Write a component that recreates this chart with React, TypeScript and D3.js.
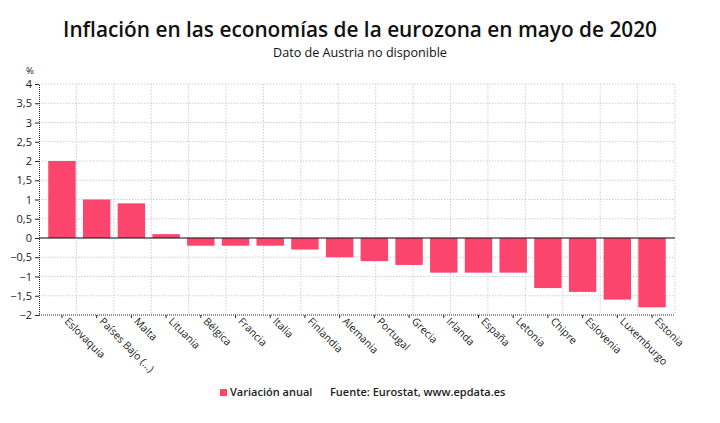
import React, { useEffect, useRef } from 'react'
import * as d3 from 'd3'

const countries = [
  'Eslovaquia', 'Países Bajo (...)', 'Malta', 'Lituania', 'Bélgica', 'Francia',
  'Italia', 'Finlandia', 'Alemania', 'Portugal', 'Grecia', 'Irlanda', 'España',
  'Letonia', 'Chipre', 'Eslovenia', 'Luxemburgo', 'Estonia',
]
const variacion = [2.0, 1.0, 0.9, 0.1, -0.2, -0.2, -0.2, -0.3, -0.5, -0.6, -0.7, -0.9, -0.9, -0.9, -1.3, -1.4, -1.6, -1.8]
const yTicks = [-2, -1.5, -1, -0.5, 0, 0.5, 1, 1.5, 2, 2.5, 3, 3.5, 4]

const W = 720
const H = 423
const FONT = "'Open Sans', 'Noto Sans', sans-serif"
const BAR = '#fb456d'

export default function App() {
  const ref = useRef<SVGSVGElement | null>(null)

  useEffect(() => {
    document.body.style.margin = '0'
    if (!ref.current) return
    const svg = d3.select(ref.current)
    svg.selectAll('*').remove()

    const left = 39, right = 675, top = 84, bottom = 315
    // categories sit slightly inside the plot frame
    const x = d3.scaleBand<string>().domain(countries).range([44.6, 669.4]).paddingInner(0.21).paddingOuter(0.105)
    const y = d3.scaleLinear().domain([-2, 4]).range([bottom, top])

    // titles
    svg.append('text').attr('x', 360).attr('y', 37).attr('text-anchor', 'middle')
      .style('font-family', FONT).style('font-size', '20.8px').style('font-weight', 600)
      .attr('fill', '#111').text('Inflación en las economías de la eurozona en mayo de 2020')
    svg.append('text').attr('x', 360).attr('y', 57).attr('text-anchor', 'middle')
      .style('font-family', FONT).style('font-size', '12.6px').attr('fill', '#111')
      .text('Dato de Austria no disponible')
    svg.append('text').attr('x', 26).attr('y', 74)
      .style('font-family', FONT).style('font-size', '9.5px').attr('fill', '#222').text('%')

    // grid
    const grid = svg.append('g').attr('stroke', '#cfcfcf').attr('stroke-dasharray', '1.5,1.5').attr('stroke-width', 1)
    yTicks.filter((t) => t !== -2).forEach((t) => {
      grid.append('line').attr('x1', left).attr('x2', right).attr('y1', y(t)).attr('y2', y(t))
    })
    d3.range(1, 18).forEach((i) => {
      const gx = left + ((right - left) * i) / 17
      grid.append('line').attr('x1', gx).attr('x2', gx).attr('y1', top).attr('y2', bottom)
    })

    // bars
    svg.append('g').selectAll('rect').data(variacion).join('rect')
      .attr('x', (_, i) => x(countries[i])!)
      .attr('width', x.bandwidth())
      .attr('y', (d) => y(Math.max(0, d)))
      .attr('height', (d) => Math.abs(y(d) - y(0)))
      .attr('fill', BAR)

    // zero line
    svg.append('line').attr('x1', left).attr('x2', right).attr('y1', y(0)).attr('y2', y(0))
      .attr('stroke', '#111').attr('stroke-width', 1.2)

    // y axis
    const ya = svg.append('g').attr('transform', `translate(${left},0)`)
      .call(d3.axisLeft(y).tickValues(yTicks).tickSize(4).tickFormat((d) => d3.format('.1~f')(+d).replace('.', ',')))
    ya.select('.domain').attr('stroke', '#222').attr('stroke-dasharray', '1,1')
    ya.selectAll('line').attr('stroke', '#222')
    ya.selectAll('text').style('font-family', FONT).style('font-size', '11px').attr('fill', '#222')

    // x axis
    const xa = svg.append('g').attr('transform', `translate(0,${bottom})`)
    xa.append('line').attr('x1', left).attr('x2', right).attr('stroke', '#222').attr('stroke-dasharray', '1,1')
    xa.call(d3.axisBottom(x).tickSize(3).tickSizeOuter(0))
    xa.select('.domain').remove()
    xa.selectAll('.tick line').attr('stroke', '#222')
    xa.selectAll('text')
      .style('font-family', FONT).style('font-size', '10.5px').attr('fill', '#222')
      .attr('text-anchor', 'start').attr('dy', null).attr('y', 0)
      .attr('transform', 'translate(2,7) rotate(45)')

    // legend
    svg.append('rect').attr('x', 220).attr('y', 389).attr('width', 7).attr('height', 7).attr('fill', BAR)
    svg.append('text').attr('x', 230).attr('y', 396)
      .style('font-family', FONT).style('font-size', '11px').style('font-weight', 600).attr('fill', '#222')
      .text('Variación anual')
    svg.append('text').attr('x', 330).attr('y', 396)
      .style('font-family', FONT).style('font-size', '11px').style('font-weight', 600).attr('fill', '#222')
      .text('Fuente: Eurostat, www.epdata.es')
  }, [])

  return <svg ref={ref} width={W} height={H} style={{ display: 'block', background: '#fff' }} />
}
